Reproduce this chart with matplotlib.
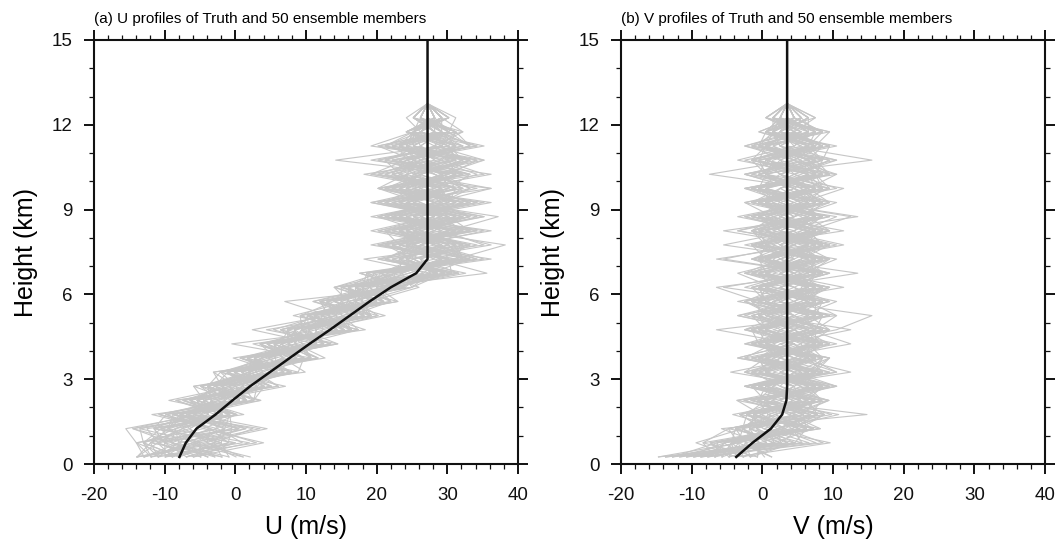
"""Vertical U / V wind profiles: truth and a 50-member ensemble."""
import matplotlib
matplotlib.use("Agg")
import matplotlib.pyplot as plt
import numpy as np
from matplotlib.ticker import MultipleLocator

plt.rcParams["font.family"] = ["Liberation Sans", "DejaVu Sans"]
plt.rcParams["axes.unicode_minus"] = False

# model levels of the ensemble members (km)
ENS_Z = [0.25, 0.75, 1.25, 1.75, 2.25, 2.75, 3.25, 3.75, 4.25, 4.75, 5.25, 5.75, 6.25,
         6.75, 7.25, 7.75, 8.25, 8.75, 9.25, 9.75, 10.25, 10.75, 11.25, 11.75, 12.25, 12.75]
# truth is given on the same levels, continued to the top of the plot
TRUTH_Z = ENS_Z + [13.25, 13.75, 14.25, 14.75, 15.25]

TRUTH_U = [-7.9, -7.0, -5.5, -2.8, -0.4, 2.1, 4.9, 7.7, 10.5, 13.4, 16.2, 19.0, 22.0,
           25.6, 27.2, 27.2, 27.2, 27.2, 27.2, 27.2, 27.2, 27.2, 27.2, 27.2, 27.2, 27.2,
           27.2, 27.2, 27.2, 27.2, 27.2]
TRUTH_V = [-3.7, -1.4, 1.2, 2.8, 3.4, 3.5, 3.5, 3.5, 3.5, 3.5, 3.5, 3.5, 3.5,
           3.5, 3.5, 3.5, 3.5, 3.5, 3.5, 3.5, 3.5, 3.5, 3.5, 3.5, 3.5, 3.5,
           3.5, 3.5, 3.5, 3.5, 3.5]

# member departures from truth (m/s), one row per member, one column per level;
# all members meet the truth at the top level
DU = [
    [3, -4, 6, -6, 2, -3, 4, -7, 1, -5, 3, -2, -6, 5, -7, 8, 2, -4, 7, -2, 5, -8, 3, 4, 0, 0],
    [-5, 2, -8, 1, -7, 4, -3, 2, -8, 3, -1, -6, 2, -8, 6, -3, 9, -5, 1, -6, 8, 2, -4, -2, 2, 0],
    [6, -5, 3, -8, -1, -6, 2, -4, 4, -9, 0, 3, -5, 4, -2, -6, 3, 10, -3, 4, -1, 6, -7, 2, -1, 0],
    [-3, 7, -6, 2, -4, -8, 5, -1, -6, 2, -5, 1, -8, -3, 5, 2, -8, 1, -5, 9, -2, -4, 5, -3, 3, 0],
    [9, 0, 4, -4, 3, 1, -6, 3, -3, -1, 4, -7, 0, 7, -4, 4, -1, -7, 3, 2, -9, 4, 1, 5, -2, 0],
    [0, -6, -3, 3, -9, -2, 1, -8, 2, -4, -7, 2, -3, -6, 1, -5, 6, 3, -8, 5, 1, -3, 8, -1, 1, 0],
    [-6, 4, 8, -5, 1, -4, -2, 4, -5, 1, -3, -12, 3, 2, -9, 6, -2, 4, -1, -7, 3, 7, -2, 1, -2, 0],
    [4, -2, -5, 0, -3, 5, -7, -2, 3, -6, 2, -1, -4, -1, 3, -7, 4, -3, 6, 0, -5, 2, -6, 3, 4, 0],
    [-4, -7, -10, -2, 2, -5, 3, -6, -1, 4, -8, -3, 1, -5, 7, -2, -4, 8, -2, -3, 4, -13, 2, -2, 0, 0],
    [2, 11, 1, -7, -2, 3, -4, 1, -7, -2, 5, -5, -1, 4, -3, 9, 1, -5, 4, -4, -1, 5, 3, -1, 3, 0],
    [-2, -3, 5, 2, -6, -3, -1, -5, 2, -8, -4, 4, -7, 1, 2, -4, -6, 2, -7, 3, 6, -2, -5, 4, -2, 0],
    [7, 5, -2, -3, 4, -7, 2, -3, -4, 3, -2, -6, 2, -7, 5, 3, -1, 6, 1, -3, -2, 8, 1, -3, 1, 0],
    [-1, -4, -7, 4, -5, 0, -5, 5, -2, -5, 1, -2, -5, 6, -6, -1, 5, -6, 3, 4, -7, -1, 6, 2, 0, 0],
    [10, 1, 9, -6, 0, -4, 3, -7, 1, -3, -6, 3, -2, -4, 4, -8, 2, -2, 9, -5, 3, 4, -3, -2, 2, 0],
    [-6, -5, -4, 1, -3, -6, -3, 0, -6, 5, -4, -2, 1, 3, -5, 5, -7, 3, -4, 1, -4, -6, 2, 1, -1, 0],
    [1, 6, 2, -9, 3, 2, -6, -4, 4, -4, 3, -8, -3, 10, 1, -3, 4, -8, 2, 6, 2, -1, -4, 3, 1, 0],
    [-3, -1, 7, -2, -5, -5, 4, 2, -5, 1, -7, 0, 4, -5, -2, 7, -3, 1, -6, -2, 9, -5, 4, -1, -3, 0],
    [8, 3, -1, -5, 1, -2, -8, 3, -1, -7, 1, -4, -1, 2, 6, -1, 8, -4, 3, -7, -3, 3, -1, 2, 2, 0],
    [-5, -7, 1, 3, -7, 4, -2, -5, 2, -2, -5, 2, -7, -2, -4, 3, -5, 5, -3, 4, -6, 0, -4, 4, -1, 0],
    [3, 2, -4, -4, 2, -6, 1, -2, -5, 3, -3, -7, 1, 5, 3, -6, 1, -2, 7, -3, 2, 6, -8, -2, 3, 0],
    [-4, 8, 3, -1, -6, -1, -5, 4, -3, -6, 2, -3, -6, -6, 8, 1, -3, 4, -5, 2, -5, -3, 5, 1, -2, 0],
    [5, -3, -6, -7, 3, -4, 2, -7, 0, -1, -4, 1, -2, 3, -3, -4, 7, -6, 1, 5, 1, -7, 3, -3, 1, 0],
    [-5, 1, 4, 2, -2, -7, -3, 1, -6, -3, 3, -5, -4, -3, 2, 6, -5, 2, -8, 1, 7, 1, -2, 2, 0, 0],
    [6, -2, -9, -3, -4, 2, -6, 3, -2, 2, -7, -1, 3, 4, -6, -2, 3, -3, 6, -6, -1, 5, 2, -3, 3, 0],
    [-2, 6, 5, -6, 1, -5, 0, -6, 3, -7, -2, -6, -1, -7, 4, 5, -1, 7, -4, 3, -8, -3, 6, 4, -1, 0],
    [2, -4, -2, 1, -8, 3, -4, 0, -7, 4, -1, 2, -8, 2, -1, -5, 6, -5, 4, -2, 4, 3, -6, -1, 2, 0],
    [-6, 3, 6, -4, 2, -3, 3, -3, 2, -4, -6, 3, -3, -5, 6, -7, 1, 3, -3, 7, -4, -2, 4, 2, -2, 0],
    [4, -1, 0, -2, -3, -6, -7, 2, -4, 0, 1, -8, -1, 5, -4, 2, -4, -1, 5, -4, 6, -6, -1, -2, 1, 0],
    [-1, 5, -5, 3, -5, 1, 1, -5, -3, -6, -2, 1, -6, -1, 3, -3, 5, -7, 2, -1, -2, 7, -5, 3, 0, 0],
    [7, -2, 2, -8, 0, -7, -2, -1, 1, -2, -5, -3, 2, -8, 4, 11, -2, 5, -6, 3, 2, -4, 5, -1, 2, 0],
    [-3, -6, -8, -1, -4, 3, -5, 3, -11, 2, -3, -4, -7, 3, -2, -3, 6, -4, 1, -5, 5, 0, -3, 2, -1, 0],
    [0, 4, 4, -5, 2, -2, 3, -5, -2, -4, 4, -2, 0, -3, 7, 1, -6, 6, -2, 2, -7, 4, 3, -3, 1, 0],
    [-5, -1, -3, 2, -6, -4, -3, -1, -5, 3, -6, 0, -5, 6, -5, 3, -2, -3, 8, -6, 3, -5, 7, 1, -2, 0],
    [3, 2, 10, -3, -1, -1, -6, 4, -3, -5, 0, -6, 3, -2, 2, -6, 5, 2, -4, 4, -3, 6, -2, -2, 3, 0],
    [-4, -6, -1, 0, -8, 2, -4, -4, 1, -11, -3, 2, -4, -7, 5, 4, -7, 1, -2, 6, 1, -2, -7, 3, -1, 0],
    [1, 9, -4, -6, 1, -6, 0, 2, -6, 1, -7, -5, 1, 4, -3, -1, 3, -5, 6, -1, -6, 2, 4, -1, 2, 0],
    [-2, 0, -9, 1, -3, 3, -7, -3, 2, -3, 1, -1, -6, -4, 9, -4, 0, 5, -7, 1, 4, -6, 1, 2, -1, 0],
    [9, 3, 2, -7, 4, -5, -1, 1, -4, -6, -5, 4, -2, 3, -6, 2, -6, 4, -1, -4, 2, 8, -3, -2, 1, 0],
    [-3, -5, -2, 2, -5, 0, -6, -2, -7, 3, -2, -3, -8, -5, 3, -2, 4, -6, 3, -2, -3, -1, 6, 3, 0, 0],
    [2, 7, -6, -4, -2, -1, 3, -6, 1, -4, 2, -7, 0, 6, -1, 5, -3, 3, -5, 5, -5, 4, -4, -1, 2, 0],
    [-6, -4, 3, 1, -7, -3, -5, 2, -4, 0, -6, 1, -5, -3, 4, -7, 7, -2, 2, -7, 6, -1, 2, 4, -2, 0],
    [5, 1, -4, -5, 0, -8, 1, -7, -2, -6, 3, -3, 2, 1, -4, 3, -3, 6, -3, 4, -2, 5, -6, -2, 1, 0],
    [-1, -7, 6, -3, -4, 1, -3, -1, -5, 2, -4, -6, -3, -7, 5, -1, 2, -5, 5, -3, 3, -7, 2, 3, -1, 0],
    [6, 4, -1, 0, -1, -4, -8, 3, -1, -5, -1, 2, -7, 4, -2, 6, -4, 2, -6, 2, -4, 3, 4, -3, 2, 0],
    [-4, 1, 7, -6, 2, -6, -2, -4, 3, -7, -2, -4, -1, -2, 2, -5, 5, -7, 1, 9, -8, 1, -1, 2, 0, 0],
    [1, -3, -6, 2, -6, 2, -5, 1, -7, 1, -5, 0, -4, 5, -7, 1, -4, 3, -4, -1, 4, -5, 7, -2, 1, 0],
    [-6, 5, 4, -4, 1, -3, -1, -6, 0, -3, 2, -5, 2, -5, 3, -3, 6, -1, 4, -5, -1, 6, -4, 1, -2, 0],
    [4, -2, -3, -1, -5, -5, -6, 2, -5, 4, -6, -2, -3, 2, -1, 4, -6, 5, -3, 3, 2, -2, -3, 5, 2, 0],
    [-2, 10, 2, -6, 3, -1, -3, -4, 1, -2, -1, -7, 0, -6, 6, -4, 3, -1, 5, -7, 5, -3, 4, -2, -1, 0],
    [0, -6, -5, 3, -4, -2, -7, 0, -3, -4, 3, -1, -6, 3, -3, 2, -2, 8, -4, 2, -2, 4, -5, 1, 1, 0],
]

DV = [
    [-4, 3, -5, 6, 2, -6, 5, -3, 7, -2, 4, -7, 3, -1, 6, -4, 2, 7, -5, 4, -6, 3, -2, 4, 2, 0],
    [1, -6, 4, -3, -7, 7, -2, 4, -5, 6, -3, 2, 6, -6, -1, 5, -7, 3, 5, -3, 1, 7, -4, -3, -1, 0],
    [-9, 5, -2, 2, 6, -3, 4, -7, 1, -10, 7, 3, -4, 5, -5, 0, 6, -5, 2, 8, -3, -2, 5, 1, 4, 0],
    [-2, -3, 6, -5, 3, 4, -8, 2, 5, -3, -1, 5, -6, 1, 6, -4, 4, -2, -6, 3, 7, -5, 3, -3, 0, 0],
    [-5, 9, 1, 4, -4, -2, 3, 6, -3, 7, 12, -2, 4, -3, 2, 6, -3, 5, -1, -5, 4, 1, -6, 2, -2, 0],
    [-11, -2, -4, -1, 5, 3, -5, -1, 4, -6, 2, 7, -2, -7, 1, -5, 8, -3, 4, 0, -3, 5, 3, -1, 1, 0],
    [2, 6, 5, -4, -2, 7, 1, -6, -2, 3, -7, 4, 2, 4, -10, 3, -1, 4, -4, 7, 1, -6, 4, 6, -3, 0],
    [-3, -7, -6, 3, 4, -5, 7, 3, -6, 1, 5, -3, -4, 3, 4, -2, -5, 1, 6, -6, 5, 3, -3, 0, 3, 0],
    [-1, 4, 1, 8, -3, 1, -3, -4, 3, 6, -2, -6, 5, -1, 2, 5, 3, -7, 3, 1, -4, -3, 7, -3, -1, 0],
    [-7, -4, 7, -6, 2, -4, 4, 5, -4, -3, 4, 1, -3, 10, -4, -3, 6, 0, -4, 5, 3, -7, 1, 4, 0, 0],
    [3, 1, -3, 2, -6, 5, -3, 1, 6, -4, 1, -4, 8, -2, 5, 1, -5, 4, -1, -3, 6, 4, -1, -2, 2, 0],
    [-10, 7, 3, -2, 3, -3, 6, -4, 0, 5, -5, 3, -1, 4, -3, 8, -1, -3, 5, 2, -4, 1, 4, -4, 1, 0],
    [0, -8, -4, 5, -4, 4, -1, 4, -3, -1, 6, -3, 4, -5, 6, -4, 3, 9, -3, -1, 3, -4, -3, 5, -1, 0],
    [-6, 3, 6, -2, 5, -6, 2, -2, 4, 3, -3, 6, -4, 1, -2, 3, -5, 1, 7, -4, -1, 5, 6, -1, 3, 0],
    [5, -1, -5, 4, -2, 1, 5, -7, 1, -5, 3, -1, 5, -4, 4, -6, 4, 2, -3, 6, -5, 2, -4, 2, -2, 0],
    [-9, -5, 2, -7, 3, 5, -4, 2, -2, 4, 7, -4, 1, 5, -3, 1, -3, 6, -4, 1, 4, -3, 5, -1, 1, 0],
    [0, 11, -1, 3, -3, -2, 1, -3, 5, -6, -1, 4, -3, 2, 7, -5, 4, -1, 3, -5, 7, 1, -2, 3, 0, 0],
    [-4, -4, 5, 1, 6, -1, -5, 4, -4, 1, 5, -5, 6, -3, 0, 5, -4, 1, -2, 4, -3, -5, 2, -3, 4, 0],
    [-2, 1, -7, 12, -5, 4, 2, -4, 2, -3, -4, 3, -1, 6, -5, 3, 1, -6, 4, 2, -1, 4, -6, 1, -1, 0],
    [3, -7, 2, -4, 1, -4, 9, 1, -5, 5, 1, -2, 3, -4, 4, -1, 6, 3, -5, 5, 1, -1, 3, 5, 1, 0],
    [-11, 4, -3, 5, -1, 3, -3, 5, 1, -4, 4, 5, -5, 2, -3, 6, -2, 4, 0, -6, 5, 3, -3, -2, -1, 0],
    [1, -2, 4, -1, 4, -5, 3, -5, 6, 2, -7, 1, 4, -1, 5, -4, 5, -5, 6, 1, -4, 12, 0, 1, 2, 0],
    [-7, 6, -6, 2, -6, 6, -1, 3, -3, -1, 3, -4, -10, 5, -4, 4, -7, 1, -3, 4, 3, -5, 4, -2, 0, 0],
    [4, 0, 1, -5, 2, 1, -6, -3, 4, 4, -3, 6, -2, -4, 3, -1, 2, 5, -1, -4, 6, 1, -4, 6, -2, 0],
    [-3, -5, 3, 6, -3, -5, 5, 3, -5, 1, -5, 2, 5, -3, 1, 5, -1, -4, 4, 3, -3, -4, 5, -1, 1, 0],
    [-8, 5, -2, -4, 5, 2, -3, -1, 3, -5, 6, -1, -4, 4, -9, 1, 4, -2, 5, -5, 4, 3, -1, 2, -3, 0],
    [2, -3, 6, 1, -4, -3, 4, 6, -4, 6, -1, -6, 3, -1, 4, -3, -4, 10, -3, 1, -6, 5, 2, -3, 1, 0],
    [-5, 2, -4, -3, 1, 6, -5, 3, 1, -3, 4, 4, -1, 6, -3, -5, 6, -1, 2, -3, 5, -1, -5, 3, 3, 0],
    [-1, -6, 2, 4, -7, 3, 1, -5, 5, 1, -4, -2, 6, -4, 2, 4, -3, 3, -5, 6, -1, -3, 4, 1, -3, 0],
    [-10, 8, -1, -6, 4, -4, 7, 1, -3, -4, 5, 3, -5, 3, -1, -3, 1, 4, -2, -4, 2, 6, -4, -2, 2, 0],
    [0, -1, 5, 3, -3, 5, -4, -2, 9, 3, -3, -5, 4, -3, 6, 2, -5, -2, 6, 3, -3, -4, 6, 0, -1, 0],
    [-6, 4, -5, -1, 5, -6, 3, 5, -4, -5, 1, 5, -3, 1, -4, 5, 3, -6, 3, -1, 4, 2, -3, 5, 1, 0],
    [1, -4, 1, 5, -2, 1, -6, 3, 2, 4, -6, 1, 6, -5, 1, -1, -4, 5, -4, 3, -11, 1, 5, -2, -2, 0],
    [-4, 7, -3, -4, 2, -3, 5, -4, -1, 6, 3, -4, -3, 4, -3, 7, -2, 1, 3, -5, 5, -3, 1, -1, 3, 0],
    [-9, -2, 4, 6, -5, 4, -3, 1, 5, -3, -2, 6, 1, -4, 5, -4, 4, -1, -3, 4, -1, 5, -4, 3, 0, 0],
    [3, 1, -4, -3, 1, -5, 3, -6, 4, 1, 4, -3, -5, 5, -3, 3, -9, 5, 1, -4, 3, -5, 3, -4, 1, 0],
    [-2, -5, 5, 1, -4, 7, -1, 4, -5, 3, -4, 4, 3, -6, 4, -2, 3, -4, 5, 1, -4, 4, -1, 3, -3, 0],
    [-7, 3, 0, -5, 6, -3, 4, -3, 1, -6, 5, -1, 4, 1, -5, 4, -1, 3, -6, 5, 4, -3, 3, -2, 2, 0],
    [0, -3, -5, 3, -3, 2, -4, 5, -3, 4, 1, -6, -1, 4, 3, -5, 5, -4, 2, -3, 1, 6, -5, 4, -1, 0],
    [-5, 10, 2, -3, 4, -4, 6, -1, 4, -3, -5, 3, 5, -3, -4, 6, -4, 6, -3, 3, -3, -1, 4, -3, 2, 0],
    [2, -1, -3, 7, -1, 5, -3, -4, 5, 0, 3, -3, -4, 6, -1, 3, 4, -5, 1, -5, 6, 3, -3, 5, -2, 0],
    [-6, 4, 4, -4, 3, -1, 1, 6, -6, 5, -1, 4, 1, -3, 5, -9, 1, 4, -4, 3, -1, -4, 6, -1, 1, 0],
    [-1, -2, -6, 2, -5, 4, -5, 3, 1, -4, 6, -5, 3, 4, -3, 4, -3, -1, 5, -6, 4, 5, -3, 1, -2, 0],
    [-8, 1, 5, -1, 4, -6, 4, -1, -4, 3, -3, 5, -9, 3, 6, -3, 5, -4, -1, 4, -5, 1, 4, -3, 2, 0],
    [1, 6, -1, -6, -1, 3, -1, 5, 3, -5, 4, 1, 4, -5, -1, 5, -5, 3, 4, -3, 3, -5, 1, 3, -1, 0],
    [-3, -4, 3, 5, 3, -4, 5, -5, 4, 1, -4, -4, 5, 1, -4, 1, 4, -3, 3, 5, -4, 4, -5, -1, 2, 0],
    [-10, 2, -2, -2, -4, 6, -3, 4, -1, 9, -3, 3, -4, 5, 3, -5, 1, 5, -5, -1, 6, -3, 3, 4, -2, 0],
    [5, -2, 1, 4, 5, -3, 3, -4, 5, -4, 1, -5, 3, -1, 4, -3, -5, 4, 3, -4, -3, 7, -1, -2, 1, 0],
    [-3, 3, -4, -5, -3, 5, -6, 1, -3, 4, 5, -1, -3, 4, -5, 6, -1, -4, 4, 1, -6, 3, 5, -1, 0, 0],
    [-1, -3, 7, 1, 4, -2, 1, -3, 6, -1, -4, 4, 1, -6, 3, -1, 3, -5, 1, 6, 4, -5, -3, 5, -1, 0],
]

TITLES = ["(a) U profiles of Truth and 50 ensemble members",
          "(b) V profiles of Truth and 50 ensemble members"]
XLABELS = ["U (m/s)", "V (m/s)"]

MEMBER_COLOR = "#c6c6c6"
TRUTH_COLOR = "#111111"


def draw_panel(ax, truth, dev, title, xlabel):
    base = np.array(truth[:len(ENS_Z)])
    for row in dev:
        ax.plot(base + np.array(row), ENS_Z, color=MEMBER_COLOR, lw=0.8, zorder=1)
    ax.plot(truth, TRUTH_Z, color=TRUTH_COLOR, lw=1.8, zorder=2)

    ax.set_xlim(-20, 40)
    ax.set_ylim(0, 15)
    ax.xaxis.set_major_locator(MultipleLocator(10))
    ax.xaxis.set_minor_locator(MultipleLocator(2))
    ax.yaxis.set_major_locator(MultipleLocator(3))
    ax.yaxis.set_minor_locator(MultipleLocator(1))
    ax.tick_params(which="both", direction="out", top=True, right=True,
                   labeltop=False, labelright=False, labelsize=13.5, colors="#111111")
    ax.tick_params(which="major", length=7.5, width=1.4)
    ax.tick_params(which="minor", length=3.8, width=0.9)
    ax.tick_params(axis="x", which="major", pad=9)
    ax.tick_params(axis="y", which="major", pad=8)
    for sp in ax.spines.values():
        sp.set_linewidth(1.5)
        sp.set_color("#111111")

    ax.set_title(title, loc="left", fontsize=11, pad=12)
    ax.set_xlabel(xlabel, fontsize=18, labelpad=8)
    ax.set_ylabel("Height (km)", fontsize=18, labelpad=10)


fig = plt.figure(figsize=(10.58, 5.42), dpi=100)
ax_u = fig.add_axes([0.0888, 0.1439, 0.4008, 0.7823])
ax_v = fig.add_axes([0.5870, 0.1439, 0.4008, 0.7823])

draw_panel(ax_u, TRUTH_U, DU, TITLES[0], XLABELS[0])
draw_panel(ax_v, TRUTH_V, DV, TITLES[1], XLABELS[1])

fig.savefig("out.png", dpi=100)
